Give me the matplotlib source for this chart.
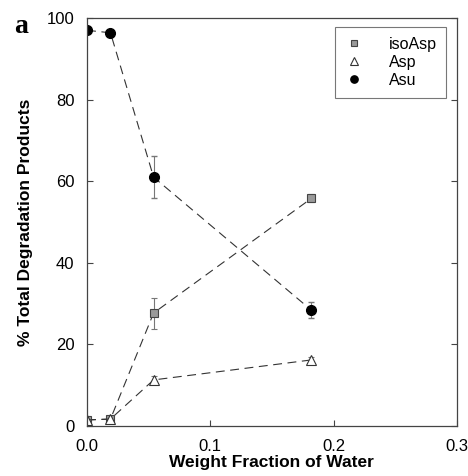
import matplotlib.pyplot as plt

# weight fraction of water
water = [0.0, 0.019, 0.054, 0.182]

iso_asp = [1.5, 1.7, 27.7, 55.8]
iso_asp_err = [0.3, 0.3, 3.8, 1.0]
asp = [1.5, 1.7, 11.3, 16.2]
asp_err = [0.3, 0.3, 1.0, 0.7]
asu = [97.0, 96.4, 61.0, 28.4]
asu_err = [0.3, 0.3, 5.2, 2.0]

LINE = "#333333"
ERR = "#777777"

plt.rcParams["font.family"] = ["Liberation Sans", "DejaVu Sans"]

fig = plt.figure(figsize=(4.68, 4.76), dpi=100)
ax = fig.add_axes([0.186, 0.105, 0.79, 0.857])

dash = (0, (8, 5))
ax.errorbar(water, iso_asp, yerr=iso_asp_err, color=LINE, ls=dash, lw=0.8,
            marker="s", ms=6, mfc="#9a9a9a", mec="#444444", mew=0.8,
            ecolor=ERR, elinewidth=0.8, capsize=2.5, label="isoAsp")
ax.errorbar(water, asp, yerr=asp_err, color=LINE, ls=dash, lw=0.8,
            marker="^", ms=7, mfc="white", mec="#333333", mew=0.8,
            ecolor=ERR, elinewidth=0.8, capsize=2.5, label="Asp")
ax.errorbar(water, asu, yerr=asu_err, color=LINE, ls=dash, lw=0.8,
            marker="o", ms=7, mfc="black", mec="black",
            ecolor=ERR, elinewidth=0.8, capsize=2.5, label="Asu")

ax.set_xlim(0, 0.3)
ax.set_ylim(0, 100)
ax.set_xticks([0.0, 0.1, 0.2, 0.3])
ax.set_xticklabels(["0.0", "0.1", "0.2", "0.3"])
ax.set_yticks([0, 20, 40, 60, 80, 100])
ax.tick_params(direction="in", length=4, labelsize=12, top=False, right=True,
               width=0.8, color="#444444")
ax.tick_params(axis="x", pad=9)
ax.tick_params(axis="y", pad=9)
for s in ax.spines.values():
    s.set_linewidth(0.9)
    s.set_color("#444444")

ax.set_xlabel("Weight Fraction of Water", fontsize=12.5, fontweight="bold", labelpad=1)
ax.set_ylabel("% Total Degradation Products", fontsize=12.5, fontweight="bold", labelpad=10)

handles, labels = ax.get_legend_handles_labels()
handles = [h[0] for h in handles]
leg = ax.legend(handles, labels, loc="upper right", bbox_to_anchor=(0.985, 0.99),
                fontsize=11.5, frameon=True, fancybox=False, edgecolor="#555555",
                markerscale=0.75, handlelength=1.2, handletextpad=1.6,
                labelspacing=0.2, borderpad=0.6, borderaxespad=0.3)
for h in leg.legend_handles:
    h.set_linestyle("none")
leg.get_frame().set_linewidth(0.8)

fig.text(0.03, 0.93, "a", fontsize=20, fontweight="bold",
         family=["Liberation Serif", "DejaVu Serif"])

fig.savefig("out.png", dpi=100)
